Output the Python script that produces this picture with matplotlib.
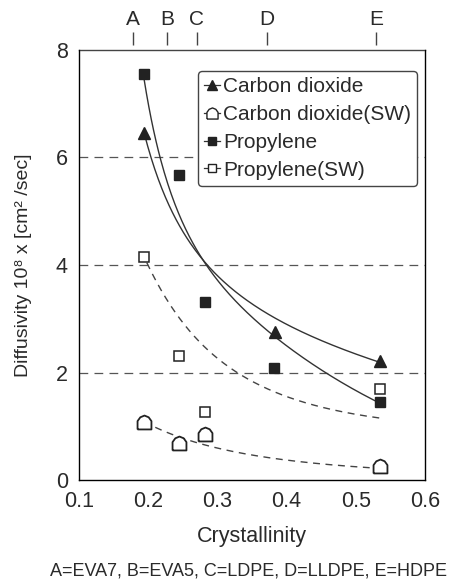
import numpy as np
import matplotlib
matplotlib.use("Agg")
import matplotlib.pyplot as plt
from matplotlib.lines import Line2D

plt.rcParams['font.family'] = ['Liberation Sans', 'DejaVu Sans']

# measured points
co2_x = [0.194, 0.383, 0.535]
co2_y = [6.46, 2.75, 2.21]
co2sw_x = [0.194, 0.245, 0.282, 0.535]
co2sw_y = [1.08, 0.69, 0.86, 0.26]
pro_x = [0.194, 0.245, 0.282, 0.382, 0.535]
pro_y = [7.55, 5.67, 3.31, 2.08, 1.45]
prosw_x = [0.194, 0.245, 0.282, 0.535]
prosw_y = [4.15, 2.31, 1.27, 1.69]

# trend curves, values
co2_fit_x = [0.194, 0.204, 0.214, 0.234, 0.268, 0.286, 0.386, 0.458, 0.535]
co2_fit_y = [6.47, 5.99, 5.58, 5.10, 4.25, 3.92, 3.10, 2.47, 2.21]
pro_fit_x = [0.194, 0.216, 0.224, 0.242, 0.268, 0.286, 0.386, 0.458, 0.535]
pro_fit_y = [7.55, 5.99, 5.58, 5.10, 4.35, 3.92, 2.73, 1.90, 1.45]
prosw_fit_x = [0.198, 0.217, 0.236, 0.256, 0.290, 0.323, 0.372, 0.430, 0.539]
prosw_fit_y = [4.04, 3.59, 3.18, 2.79, 2.38, 2.05, 1.73, 1.40, 1.15]
co2sw_fit_x = [0.194, 0.207, 0.304, 0.376, 0.448, 0.520]
co2sw_fit_y = [1.08, 0.99, 0.61, 0.41, 0.28, 0.24]

top_labels = ['A', 'B', 'C', 'D', 'E']
top_pos = [0.178, 0.227, 0.270, 0.372, 0.529]

house = [(-1, -1), (1, -1), (1, 0.2), (0.6, 0.75), (0, 1), (-0.6, 0.75), (-1, 0.2), (-1, -1)]


def smooth(xs, ys, deg=3):
    lx = np.log(xs)
    c = np.polyfit(lx, np.log(ys), deg)
    xx = np.linspace(min(xs), max(xs), 200)
    return xx, np.exp(np.polyval(c, np.log(xx)))


fig = plt.figure(figsize=(4.5, 5.8), dpi=100)
ax = fig.add_axes([0.1756, 0.1724, 0.7689, 0.7414])
ink = '#222222'
txt = '#2a2a2a'

for v in [2, 4, 6]:
    ax.axhline(v, color='#555555', lw=0.9, ls=(0, (7, 5)), zorder=1)

xx, yy = smooth(co2_fit_x, co2_fit_y)
ax.plot(xx, yy, color='#333333', lw=1.0, zorder=2)
xx, yy = smooth(pro_fit_x, pro_fit_y)
ax.plot(xx, yy, color='#333333', lw=1.0, zorder=2)
xx, yy = smooth(prosw_fit_x, prosw_fit_y)
ax.plot(xx, yy, color='#444444', lw=1.0, ls=(0, (5, 4)), zorder=2)
xx, yy = smooth(co2sw_fit_x, co2sw_fit_y, 2)
ax.plot(xx, yy, color='#444444', lw=1.0, ls=(0, (5, 4)), zorder=2)

ax.plot(co2_x, co2_y, ls='none', marker='^', ms=8, color=ink, zorder=3)
ax.plot(co2sw_x, co2sw_y, ls='none', marker=house, ms=10, mfc='white', mec=ink, mew=1.3, zorder=3)
ax.plot(pro_x, pro_y, ls='none', marker='s', ms=7.5, color=ink, zorder=3)
ax.plot(prosw_x, prosw_y, ls='none', marker='s', ms=7.5, mfc='white', mec=ink, mew=1.1, zorder=3)

ax.set_xlim(0.1, 0.6)
ax.set_ylim(0, 8)
ax.set_xticks([0.1, 0.2, 0.3, 0.4, 0.5, 0.6])
ax.set_xticklabels(['0.1', '0.2', '0.3', '0.4', '0.5', '0.6'])
ax.set_yticks([0, 2, 4, 6, 8])
ax.tick_params(length=0, labelsize=15.5, colors=txt, pad=8)
for s in ax.spines.values():
    s.set_color('#444444')
    s.set_linewidth(1.0)
ax.set_xlabel('Crystallinity', fontsize=15.5, color=txt, labelpad=10)
ax.set_ylabel('Diffusivity 10⁸ x [cm² /sec]', fontsize=14, color=txt, labelpad=17)

top = ax.twiny()
top.set_xlim(ax.get_xlim())
top.set_xticks(top_pos)
top.set_xticklabels(top_labels)
top.spines['top'].set_position(('outward', 3.6))
top.spines['top'].set_visible(False)
top.tick_params(axis='x', direction='out', length=9.5, width=1.0, color='#444444',
                labelsize=15, labelcolor=txt, pad=2)

handles = [
    Line2D([], [], color='#333333', lw=0.9, marker='^', ms=7, mfc=ink, mec=ink),
    Line2D([], [], color='#333333', lw=0.9, marker=house, ms=8, mfc='white', mec=ink),
    Line2D([], [], color='#333333', lw=0.9, marker='s', ms=6, mfc=ink, mec=ink),
    Line2D([], [], color='#333333', lw=0.9, marker='s', ms=6, mfc='white', mec=ink),
]
labels = ['Carbon dioxide', 'Carbon dioxide(SW)', 'Propylene', 'Propylene(SW)']
leg = ax.legend(handles, labels, loc='upper right', bbox_to_anchor=(0.977, 0.951),
                fontsize=15, handlelength=0.75, handletextpad=0.15, labelspacing=0.42,
                borderpad=0.3, borderaxespad=0, fancybox=True, framealpha=1)
leg.get_frame().set_edgecolor('#444444')
leg.get_frame().set_linewidth(1.0)
for t in leg.get_texts():
    t.set_color(txt)

fig.text(0.552, 0.0155, 'A=EVA7, B=EVA5, C=LDPE, D=LLDPE, E=HDPE', ha='center', va='center',
         fontsize=13, color=txt)

fig.savefig('out.png', dpi=100, facecolor='white')
